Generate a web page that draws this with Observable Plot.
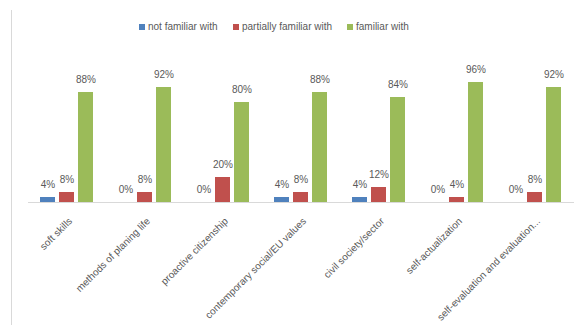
<!DOCTYPE html>
<html><head><meta charset="utf-8">
<script src="https://cdn.jsdelivr.net/npm/d3@7"></script>
<script src="https://cdn.jsdelivr.net/npm/@observablehq/plot@0.6"></script>
<style>
body{margin:0;background:#fff;font-family:"Liberation Sans",Arial,sans-serif;}
#wrap{position:relative;width:580px;height:325px;overflow:hidden;background:#fff;}
#frame{position:absolute;left:11px;top:10px;width:1px;height:330px;background:#d9d9d9;}
#chart{position:absolute;left:0;top:0;}
.leg{position:absolute;top:20px;font-size:10px;color:#595959;white-space:nowrap;line-height:14px;}
.sw{display:inline-block;width:6px;height:6px;margin-right:3px;vertical-align:0px;}
</style></head>
<body>
<div id="wrap">
  <div id="chart"></div>
  <div id="frame"></div>
  <div id="legend"></div>
</div>
<script>
const categories = ["soft skills","methods of planing life","proactive citizenship","contemporary social/EU values","civil society/sector","self-actualization","self-evaluation and evaluation..."];
const series = ["not familiar with","partially familiar with","familiar with"];
const notFamiliar = [4,0,0,4,4,0,0];
const partiallyFamiliar = [8,8,20,8,12,4,8];
const familiar = [88,92,80,88,84,96,92];
const colors = ["#4F81BD","#C0504D","#9BBB59"];
const legendLeft = [139,233,347];

const seriesValues = [notFamiliar, partiallyFamiliar, familiar];
const rows = categories.flatMap((c,i)=>seriesValues.map((arr,j)=>({category:c, series:series[j], value:arr[i]})));

const chart = Plot.plot({
  width:580, height:325,
  marginTop:77, marginBottom:123, marginLeft:25, marginRight:3,
  fx:{domain:categories, padding:0, label:null},
  x:{domain:series, axis:null, paddingInner:0.2, paddingOuter:0.62},
  y:{domain:[0,100], axis:null},
  color:{domain:series, range:colors},
  style:{fontFamily:'"Liberation Sans",Arial,sans-serif', fontSize:"10px", color:"#595959", background:"transparent"},
  marks:[
    Plot.ruleY([0], {stroke:"#d9d9d9", strokeWidth:1}),
    Plot.barY(rows, {fx:"category", x:"series", y:"value", fill:"series"}),
    Plot.text(rows, {fx:"category", x:"series", y:"value", text:d=>d.value+"%", dy:-13, fill:"#595959", fontSize:10}),
    Plot.axisFx({anchor:"bottom", tickRotate:-45, tickSize:0, tickPadding:17, dx:3, label:null, fill:"#595959", fontSize:10})
  ]
});
document.getElementById("chart").appendChild(chart);

const legend = document.getElementById("legend");
series.forEach((s,i)=>{
  const item = document.createElement("div");
  item.className = "leg";
  item.style.left = legendLeft[i]+"px";
  item.innerHTML = `<span class="sw" style="background:${colors[i]}"></span>${s}`;
  legend.appendChild(item);
});
</script>
</body></html>
